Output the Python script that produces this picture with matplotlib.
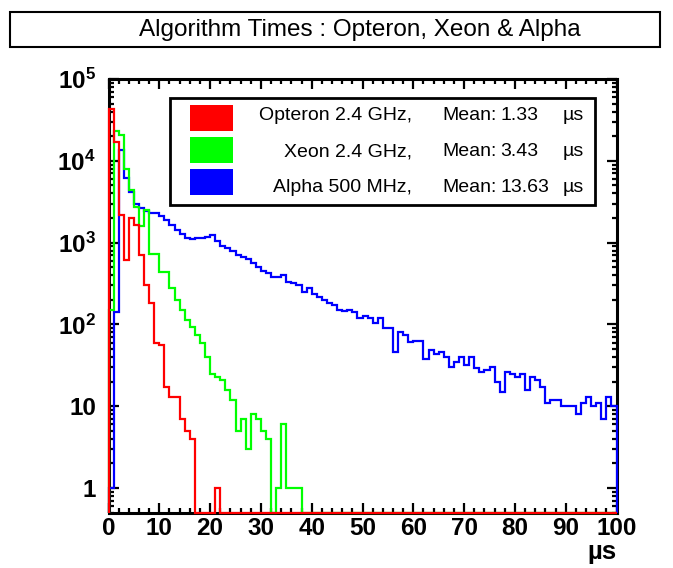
import numpy as np
import matplotlib
matplotlib.use("Agg")
import matplotlib.pyplot as plt
from matplotlib.patches import Rectangle
from matplotlib.ticker import MultipleLocator, LogLocator, NullFormatter


plt.rcParams["font.family"] = ["Liberation Sans", "DejaVu Sans"]
plt.rcParams["mathtext.fontset"] = "custom"
plt.rcParams["mathtext.rm"] = "Liberation Sans"
plt.rcParams["mathtext.bf"] = "Liberation Sans:bold"
plt.rcParams["mathtext.it"] = "Liberation Sans:italic"

# 100 bins of 1 us from 0 to 100 us
EDGES = np.arange(0, 101, 1)

# counts per bin (0 = empty bin)
opteron = [
    43000, 17000, 2200, 620, 2000, 1640, 705, 303, 181, 59,
    56, 17, 13, 13, 7, 5, 4, 0, 0, 0,
    0, 1, 0, 0, 0, 0, 0, 0, 0, 0,
] + [0] * 70

xeon = [
    150, 23300, 20700, 7870, 4400, 2750, 1600, 2500, 735, 735,
    441, 441, 276, 199, 150, 113, 94, 74, 59, 40,
    25, 23, 21, 16, 12, 5, 7, 3, 8, 7,
    5, 4, 0, 1, 6, 1, 1, 1, 0, 0,
] + [0] * 60

alpha = [
    1, 143, 13500, 6200, 4100, 2950, 2630, 2420, 2310, 2300,
    2100, 1890, 1650, 1410, 1290, 1130, 1100, 1130, 1140, 1160,
    1230, 1050, 915, 850, 790, 705, 670, 623, 560, 506,
    450, 420, 376, 376, 402, 333, 317, 303, 247, 276,
    233, 218, 199, 181, 173, 150, 146, 150, 143, 119,
    127, 119, 103, 119, 90, 90, 46, 81, 74, 61,
    63, 63, 38, 49, 44, 46, 40, 30, 35, 40,
    32, 40, 29, 26, 28, 30, 20, 15, 26, 25,
    23, 25, 16, 23, 21, 17, 11, 12, 12, 10,
    10, 10, 8, 11, 13, 10, 11, 7, 13, 10,
]

names = ["Opteron 2.4 GHz,", "Xeon 2.4 GHz,", "Alpha 500 MHz,"]
means = [1.33, 3.43, 13.63]
colors = ["#ff0000", "#00ff00", "#0000ff"]

YTICKS = [1, 10, 1e2, 1e3, 1e4, 1e5]
YTICK_LABELS = ["1", "10", r"$\mathbf{10^{2}}$", r"$\mathbf{10^{3}}$",
                r"$\mathbf{10^{4}}$", r"$\mathbf{10^{5}}$"]
YMIN = 0.495

TITLE = "Algorithm Times : Opteron, Xeon & Alpha"

W, H = 673, 568
AX_L, AX_R, AX_T, AX_B = 108.5, 616.5, 79, 513


def px2ax(x, y):
    # pixel position of the picture -> axes fraction
    return (x - AX_L) / (AX_R - AX_L), (AX_B - y) / (AX_B - AX_T)


def plot_hist():
    fig = plt.figure(figsize=(W / 100, H / 100), dpi=100)
    ax = fig.add_axes([AX_L / W, (H - AX_B) / H,
                       (AX_R - AX_L) / W, (AX_B - AX_T) / H])

    # red last so its empty bins sit on top along the floor
    series = [opteron, xeon, alpha]
    for i in [2, 1, 0]:
        v = np.asarray(series[i], dtype=float)
        v = np.where(v > 0, v, YMIN)  # ROOT draws empty bins on the floor
        ax.stairs(v, EDGES, baseline=YMIN, color=colors[i], lw=1.6,
                  zorder=3, clip_on=False)

    ax.set_yscale("log")
    ax.set_xlim(0, 100)
    ax.set_ylim(YMIN, 1e5)

    ax.xaxis.set_major_locator(MultipleLocator(10))
    ax.xaxis.set_minor_locator(MultipleLocator(2))
    ax.set_yticks(YTICKS, YTICK_LABELS)
    ax.yaxis.set_minor_locator(LogLocator(base=10, subs=np.arange(2, 10)))
    ax.yaxis.set_minor_formatter(NullFormatter())

    ax.tick_params(which="both", direction="in", top=True, right=True,
                   width=1.6, labelsize=17.5)
    ax.tick_params(which="major", length=7.5)
    ax.tick_params(which="minor", length=3.5)
    ax.tick_params(axis="x", pad=3)
    ax.tick_params(axis="y", pad=9)
    for lbl in ax.get_xticklabels() + ax.get_yticklabels():
        lbl.set_fontweight("bold")
    for sp in ax.spines.values():
        sp.set_linewidth(2.2)

    ax.set_xlabel("µs", loc="right", fontsize=18.5, fontweight="bold",
                  labelpad=0)

    # legend box
    x0, y0 = px2ax(170, 205)
    x1, y1 = px2ax(595, 98)
    ax.add_patch(Rectangle((x0, y0), x1 - x0, y1 - y0, transform=ax.transAxes,
                           fc="white", ec="black", lw=2, zorder=4))
    sw_y = [118, 150, 181.5]
    base_y = [120, 156.5, 191.5]
    for i in range(3):
        sx0, sy0 = px2ax(190, sw_y[i] + 13)
        sx1, sy1 = px2ax(233, sw_y[i] - 13)
        ax.add_patch(Rectangle((sx0, sy0), sx1 - sx0, sy1 - sy0,
                               transform=ax.transAxes, fc=colors[i],
                               ec="none", zorder=5))
        kw = dict(transform=ax.transAxes, fontsize=14, va="baseline",
                  zorder=6)
        ax.text(*px2ax(412, base_y[i]), names[i], ha="right", **kw)
        ax.text(*px2ax(442, base_y[i]), "Mean:", ha="left", **kw)
        ax.text(*px2ax(500, base_y[i]), f"{means[i]:.2f}", ha="left", **kw)
        ax.text(*px2ax(584, base_y[i]), "µs", ha="right", **kw)

    # title box
    fig.add_artist(Rectangle((10 / W, (H - 47) / H), 650 / W, 35 / H,
                             transform=fig.transFigure, fc="white",
                             ec="black", lw=1.5))
    fig.text(360 / W, (H - 30) / H, TITLE, ha="center", va="center",
             fontsize=17.5)

    fig.savefig("out.png", dpi=100)


def main():
    plot_hist()
    return 0


if __name__ == "__main__":
    main()
